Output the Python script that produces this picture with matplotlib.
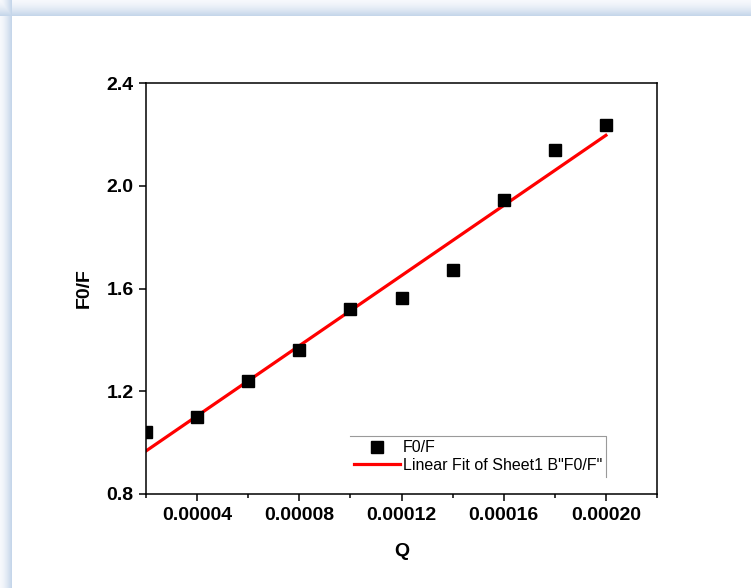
import numpy as np
import matplotlib
matplotlib.use("Agg")
import matplotlib.pyplot as plt
from matplotlib.ticker import MultipleLocator, FormatStrFormatter
from matplotlib.lines import Line2D

plt.rcParams['font.family'] = ['Liberation Sans', 'DejaVu Sans']

# Quencher concentration and fluorescence ratio
q = [0.00002, 0.00004, 0.00006, 0.00008, 0.00010,
     0.00012, 0.00014, 0.00016, 0.00018, 0.00020]
f0_f = [1.042, 1.100, 1.240, 1.361, 1.520,
        1.563, 1.672, 1.945, 2.139, 2.237]
x_ticks = [0.00004, 0.00008, 0.00012, 0.00016, 0.00020]
y_ticks = [0.8, 1.2, 1.6, 2.0, 2.4]

W, H = 751, 588
fig = plt.figure(figsize=(W / 100, H / 100), dpi=100)

# Panel background with a soft blue edge along the top and left
bg = fig.add_axes([0, 0, 1, 1], zorder=-10)
img = np.ones((H, W, 3))
edge = np.array([197, 214, 234]) / 255.0
outer = np.array([246, 248, 252]) / 255.0
top_band, left_band = 16, 12
for r in range(top_band):
    t = (r / (top_band - 1)) ** 1.5
    img[r, :, :] = outer * (1 - t) + edge * t
for c in range(left_band):
    t = (c / (left_band - 1)) ** 1.5
    col = outer * (1 - t) + edge * t
    img[:, c, :] = np.minimum(img[:, c, :], col)
bg.imshow(img, aspect='auto', interpolation='nearest')
bg.axis('off')

ax = fig.add_axes([146 / W, 1 - 494 / H, (657 - 146) / W, (494 - 83) / H])

x = np.array(q)
y = np.array(f0_f)
slope, intercept = np.polyfit(x, y, 1)
xf = np.array([x.min(), x.max()])

ax.plot(x, y, 's', color='black', markersize=8, label='F0/F', zorder=3)
ax.plot(xf, slope * xf + intercept, '-', color='#ff0000', lw=2.3,
        label='Linear Fit of Sheet1 B"F0/F"', zorder=2)

ax.set_xlim(0.00002, 0.00022)
ax.set_ylim(0.8, 2.4)
ax.set_xticks(x_ticks)
ax.xaxis.set_minor_locator(MultipleLocator(0.00002))
ax.set_yticks(y_ticks)
ax.xaxis.set_major_formatter(FormatStrFormatter('%.5f'))
ax.yaxis.set_major_formatter(FormatStrFormatter('%.1f'))

for s in ax.spines.values():
    s.set_linewidth(1.1)
ax.tick_params(which='major', direction='out', length=5, width=1.1,
               labelsize=14, pad=4)
ax.tick_params(which='minor', direction='out', length=3, width=1.1)
for lab in ax.get_xticklabels() + ax.get_yticklabels():
    lab.set_fontweight('bold')

ax.set_xlabel('Q', fontsize=14, fontweight='bold', labelpad=14)
ax.set_ylabel('F0/F', fontsize=14, fontweight='bold', labelpad=10)

leg = ax.legend(loc='lower right', bbox_to_anchor=(0.901, 0.042),
                frameon=False, fontsize=11.5, handlelength=2.9,
                handletextpad=0.2, borderpad=0.25, labelspacing=0.15,
                borderaxespad=0.0)

# Legend border drawn only on its top and right sides
fig.canvas.draw()
bb = leg.get_window_extent().transformed(fig.transFigure.inverted())
fig.add_artist(Line2D([bb.x0, bb.x1, bb.x1], [bb.y1, bb.y1, bb.y0],
                      transform=fig.transFigure, color='#9a9a9a', lw=0.8))

fig.savefig('out.png', dpi=100)
